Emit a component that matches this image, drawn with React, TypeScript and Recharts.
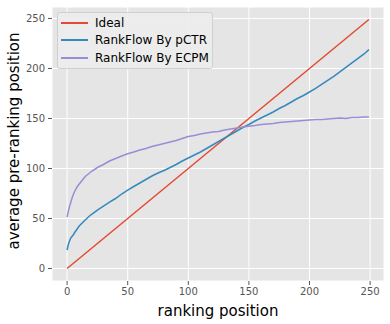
import { LineChart, Line, XAxis, YAxis, CartesianGrid } from 'recharts'

const positions = [
  0, 1, 2, 3, 4, 5, 6, 8, 10, 12, 15, 18, 20, 25, 30, 35, 40, 45, 50, 55, 60, 65, 70, 75, 80, 85, 90,
  95, 100, 105, 110, 115, 120, 125, 130, 135, 140, 145, 150, 155, 160, 165, 170, 175, 180, 185, 190,
  195, 200, 205, 210, 215, 220, 225, 230, 235, 240, 245, 249,
]

const pctr = [
  18.5, 24, 27.5, 30.5, 32, 33.5, 35.5, 39, 42.5, 45, 48.5, 52, 54, 58.5, 62.5, 66.5, 70, 74.5, 78.5,
  82, 85.5, 89, 92.5, 95.5, 98, 101, 104, 107.5, 110.5, 113.5, 116.5, 120, 123.5, 127, 130.5, 134,
  137.5, 141, 144, 147.5, 150.5, 153.5, 156.5, 160, 163, 166.5, 170, 173, 176.5, 180, 184, 188, 192,
  196.5, 201, 205.5, 210, 214.5, 218.8,
]

const ecpm = [
  51.5, 57, 62, 66, 70, 73.5, 76.5, 81, 84.5, 87.5, 92, 95, 97, 101, 104, 107.5, 110, 112.5, 114.8,
  116.5, 118.5, 120, 122, 123.5, 125, 126.5, 128, 130, 132, 133, 134.5, 135.5, 136.5, 137, 138.5,
  139.5, 140.5, 141.5, 142.3, 143, 144, 144.5, 145, 146, 146.5, 147, 147.5, 148, 148.5, 149, 149,
  149.5, 150, 150.5, 150, 151, 151, 151.5, 151.5,
]

const idealX = [0, 249]
const idealY = [0, 249]

const ticks = [0, 50, 100, 150, 200, 250]

const series = [
  { name: 'Ideal', color: '#E24A33' },
  { name: 'RankFlow By pCTR', color: '#348ABD' },
  { name: 'RankFlow By ECPM', color: '#988ED5' },
]

const idealData = idealX.map((x, i) => ({ x, y: idealY[i] }))
const curveData = positions.map((x, i) => ({ x, pctr: pctr[i], ecpm: ecpm[i] }))

const font = '"DejaVu Sans", sans-serif'

function LegendBox() {
  return (
    <div
      style={{
        position: 'absolute',
        left: 57,
        top: 12,
        background: 'rgba(236,236,236,0.9)',
        border: '1px solid #d0d0d0',
        borderRadius: 3,
        padding: '1px 3px 1.5px 3px',
        fontFamily: font,
        fontSize: 12,
        color: '#000',
      }}
    >
      {series.map((s) => (
        <div key={s.name} style={{ display: 'flex', alignItems: 'center', height: 17.5 }}>
          <div style={{ width: 27, height: 2, background: s.color, marginRight: 7 }} />
          <span>{s.name}</span>
        </div>
      ))}
    </div>
  )
}

export default function App() {
  return (
    <div style={{ position: 'absolute', left: 0, top: 0, width: 390, height: 324, background: '#fff' }}>
      <LineChart width={390} height={324} margin={{ top: 7, right: 6, left: 0, bottom: 0 }}>
        <CartesianGrid fill="#E5E5E5" stroke="#ffffff" strokeWidth={1} />
        <XAxis
          type="number"
          dataKey="x"
          domain={[-12.45, 261.45]}
          ticks={ticks}
          allowDataOverflow
          height={43}
          axisLine={false}
          tickLine={{ stroke: '#555' }}
          tickSize={4}
          tickMargin={3}
          tick={{ fill: '#555', fontSize: 10, fontFamily: font }}
          label={{ value: 'ranking position', position: 'insideBottom', offset: 8, fill: '#000', fontSize: 15, fontFamily: font }}
        />
        <YAxis
          type="number"
          domain={[-12.45, 261.45]}
          ticks={ticks}
          allowDataOverflow
          width={52}
          axisLine={false}
          tickLine={{ stroke: '#555' }}
          tickSize={4}
          tickMargin={3}
          tick={{ fill: '#555', fontSize: 10, fontFamily: font }}
          label={{
            value: 'average pre-ranking position',
            angle: -90,
            position: 'insideLeft',
            offset: 0,
            dx: 14,
            dy: -3,
            fill: '#000',
            fontSize: 15,
            fontFamily: font,
            style: { textAnchor: 'middle' },
          }}
        />
        <Line data={idealData} dataKey="y" stroke={series[0].color} strokeWidth={1.5} dot={false} isAnimationActive={false} />
        <Line data={curveData} dataKey="pctr" stroke={series[1].color} strokeWidth={1.5} dot={false} isAnimationActive={false} />
        <Line data={curveData} dataKey="ecpm" stroke={series[2].color} strokeWidth={1.5} dot={false} isAnimationActive={false} />
      </LineChart>
      <LegendBox />
    </div>
  )
}
